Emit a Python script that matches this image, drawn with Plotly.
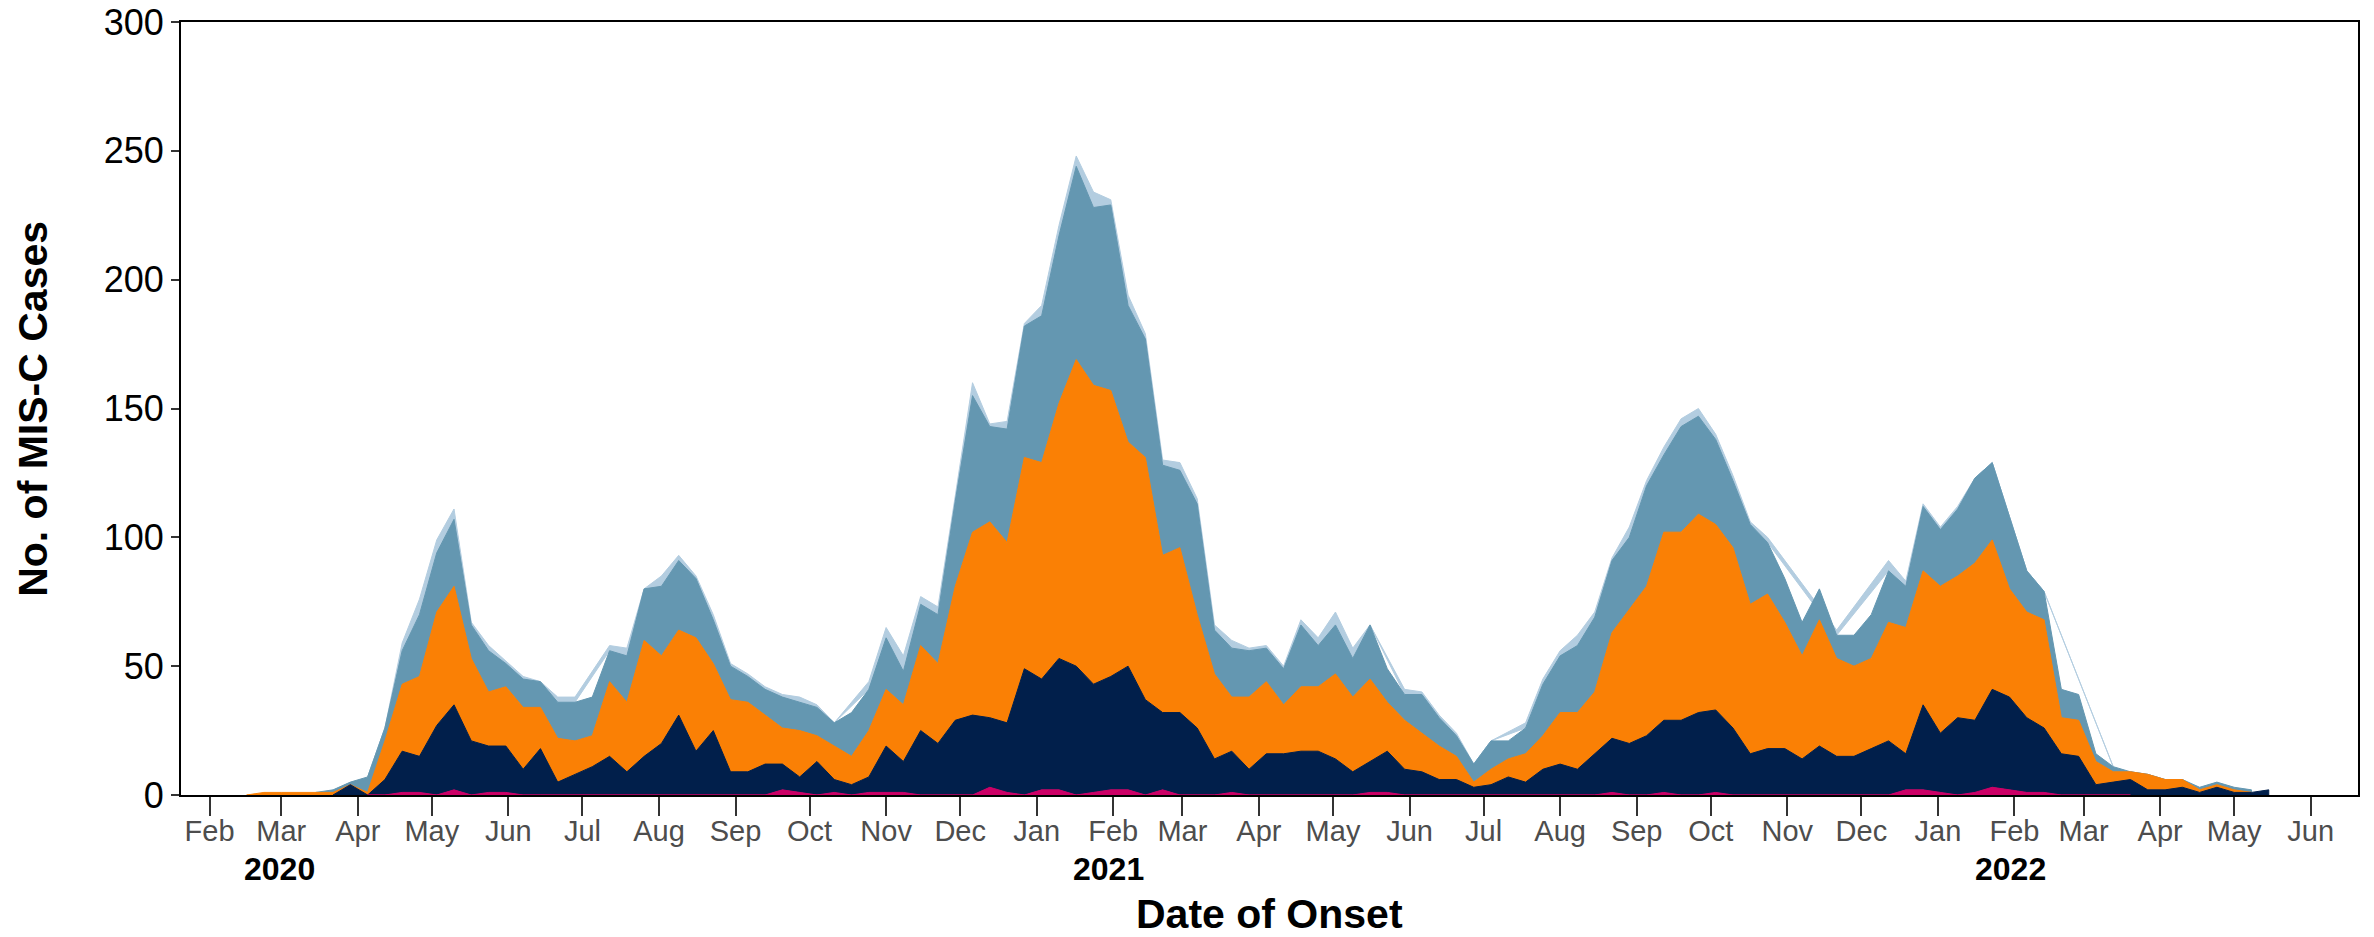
import plotly.graph_objects as go
import pandas as pd

# Weekly onset dates (Sundays)
week_start = "2020-02-16"
n_weeks = 118
weeks = [d.strftime("%Y-%m-%d") for d in pd.date_range(week_start, periods=n_weeks, freq="7D")]

N = None
# Weekly counts per group (stacked bottom -> top); None = no record that week
pink = [N, N, N, N, N, N, N,
        0, 0, 1, 1, 0, 2, 0, 1, 1,
        0, 0, 0, 0, 0, 0, 0, 0, 0, 0, 0, 0, 0, 0, 0,
        2, 1, 0, 1, 0, 1, 1, 1,
        0, 0, 0, 0,
        3, 1, 0, 2, 2, 0, 1, 2, 2, 0, 2,
        0, 0, 0,
        1,
        0, 0, 0, 0, 0, 0, 0,
        1, 1,
        0, 0, 0, 0, 0, 0, 0, 0, 0, 0, 0, 0,
        1, 0, 0, 1, 0, 0, 1,
        0, 0, 0, 0, 0, 0, 0, 0, 0, 0,
        2, 2, 1, 0, 1, 3, 2, 1, 1,
        0, 0, 0, 0, 0,
        N, N, N, N, N, N, N, N]

navy = [N, N, N, N, N, 0, 4, 0, 6, 16, 14, 27, 33, 21, 18, 18, 10, 18, 5, 8,
        11, 15, 9, 15, 20, 31, 17, 25, 9, 9, 12, 10, 6, 13, 5, 4, 6, 18, 12, 25,
        20, 29, 31, 27, 27, 49, 43, 51, 50, 42, 44, 48, 37, 30, 32, 26, 14, 16, 10, 16,
        16, 17, 17, 14, 9, 12, 16, 10, 9, 6, 6, 3, 4, 7, 5, 10, 12, 10, 16, 21,
        20, 23, 28, 29, 32, 32, 26, 16, 18, 18, 14, 19, 15, 15, 18, 21, 14, 33, 23, 30,
        28, 38, 36, 29, 25, 16, 15, 4, 5, 6, 2, 2, 3, 1, 3, 1, 1, 2]

orange = [0, 1, 1, 1, 1, 1, 0, 1, 15, 26, 31, 44, 46, 32, 21, 23, 24, 16, 17, 13,
          12, 29, 27, 45, 34, 33, 44, 26, 28, 27, 19, 14, 18, 10, 13, 11, 18, 22, 22, 33,
          31, 52, 71, 76, 70, 82, 84, 99, 119, 116, 111, 87, 94, 61, 64, 44, 33, 21, 28, 28,
          19, 25, 25, 33, 29, 32, 19, 19, 15, 13, 9, 2, 6, 7, 11, 13, 20, 22, 24, 41,
          52, 58, 73, 73, 77, 72, 70, 58, 60, 49, 40, 49, 38, 35, 35, 46, 49, 52, 57, 55,
          61, 58, 42, 41, 42, 14, 14, 9, 4, 3, 6, 4, 3, 1, 1, 1, 0, N]

steel = [N, N, N, N, 0, 1, 1, 6, 5, 13, 24, 23, 26, 13, 16, 9, 11, 10, 14, 15,
         15, 12, 18, 20, 27, 27, 23, 17, 13, 10, 10, 12, 11, 11, 9, 17, 16, 20, 13, 16,
         19, 33, 53, 37, 44, 51, 57, 65, 75, 69, 72, 53, 46, 35, 30, 43, 17, 19, 18, 13,
         14, 24, 16, 19, 15, 21, 13, 10, 15, 11, 8, 7, 11, 7, 10, 20, 22, 26, 29, 28,
         28, 39, 30, 41, 38, 33, 26, 31, 20, 17, 13, 12, 9, 12, 17, 20, 16, 25, 22, 26,
         33, 30, 28, 16, 11, 11, 10, 3, 2, 0, 0, 0, 0, 1, 1, 1, 1, N]

light = [N, N, N, N, N, N, N, 0, 0, 3, 6, 5, 4, 1, 2, 1, 1, 0, 2, 2,
         N, 2, 3, 0, 4, 2, 1, 2, 1, 1, 1, 1, 2, 1, 0, N, 3, 4, 6, 3,
         3, 2, 5, 1, 3, 1, 4, 4, 4, 6, 2, 4, 2, 2, 3, 2, 2, 3, 1, 1,
         1, 2, 3, 5, 4, 0, N, 2, 1, 1, 1, 0, 0, N, 2, 2, 2, 4, 2, 1,
         4, 2, 3, 3, 3, 2, 2, 1, 2, N, N, N, 2, N, N, 4, 2, 1, 1, 1,
         0, 0, 0, 0, 0, N, N, N, 0, N, N, N, N, N, N, N, N, N]

series_names = ["pink", "navy", "orange", "steel", "light"]
series_values = [pink, navy, orange, steel, light]
series_colors = ["#CC0066", "#011F4B", "#FA8005", "#6497B1", "#B3CDE0"]

y_ticks = [0, 50, 100, 150, 200, 250, 300]
year_labels = ["2020", "2021", "2022"]
year_label_dates = ["2020-02-29 10:00", "2021-01-30 05:00", "2022-01-30 12:00"]

# stack like ggplot position_stack: each group only at the weeks it has a record
cum = [0] * n_weeks
polys = []
for name, vals, color in zip(series_names, series_values, series_colors):
    xs, tops, bots = [], [], []
    for i, v in enumerate(vals):
        if v is None:
            continue
        xs.append(weeks[i])
        bots.append(cum[i])
        tops.append(cum[i] + v)
    for i, v in enumerate(vals):
        if v is not None:
            cum[i] += v
    polys.append((name, xs, tops, bots, color))

fig = go.Figure()
for name, xs, tops, bots, color in reversed(polys):
    fig.add_trace(go.Scatter(
        x=xs + xs[::-1], y=tops + bots[::-1],
        fill="toself", fillcolor=color, mode="lines",
        line=dict(color=color, width=1), name=name,
        hoverinfo="skip", showlegend=False))

FONT = "Liberation Sans, Arial, sans-serif"
fig.update_layout(
    width=2374, height=937,
    margin=dict(l=181, r=16, t=22, b=142, autoexpand=False),
    paper_bgcolor="white", plot_bgcolor="white",
    font=dict(family=FONT, color="black"),
    showlegend=False,
)
fig.update_xaxes(
    range=["2020-01-20 10:00", "2022-06-20 03:36"],
    tickmode="linear", tick0="2020-02-01", dtick="M1", tickformat="%b",
    ticks="outside", ticklen=19, tickwidth=2, tickcolor="#333333",
    tickfont=dict(size=29, color="#4D4D4D", family=FONT),
    ticklabelstandoff=-10,
    showline=True, linecolor="black", linewidth=2, mirror=True,
    showgrid=False, zeroline=False, automargin=False,
)
fig.update_yaxes(
    range=[0, 300], tickmode="array", tickvals=y_ticks,
    ticktext=[str(v) for v in y_ticks],
    ticks="outside", ticklen=8, tickwidth=2, tickcolor="#333333",
    tickfont=dict(size=36, color="black", family=FONT),
    showline=True, linecolor="black", linewidth=2, mirror=True,
    showgrid=False, zeroline=False, automargin=False,
)

annotations = []
for lab, d in zip(year_labels, year_label_dates):
    annotations.append(dict(
        x=d, y=-0.0961, xref="x", yref="paper", text="<b>%s</b>" % lab,
        showarrow=False, xanchor="center", yanchor="middle",
        font=dict(size=32, color="black", family=FONT)))
annotations.append(dict(
    x=0.5, y=-0.1545, xref="paper", yref="paper", text="<b>Date of Onset</b>",
    showarrow=False, xanchor="center", yanchor="middle",
    font=dict(size=41, color="black", family=FONT)))
annotations.append(dict(
    x=-0.0683, y=0.5, xref="paper", yref="paper", text="<b>No. of MIS-C Cases</b>",
    showarrow=False, xanchor="center", yanchor="middle", textangle=-90,
    font=dict(size=41, color="black", family=FONT)))
fig.update_layout(annotations=annotations)

fig.write_html(
    "out.html",
    config={"displayModeBar": False},
    post_script="document.documentElement.style.margin='0';document.body.style.margin='0';"
                "document.body.style.padding='0';document.body.style.overflow='hidden';",
)
